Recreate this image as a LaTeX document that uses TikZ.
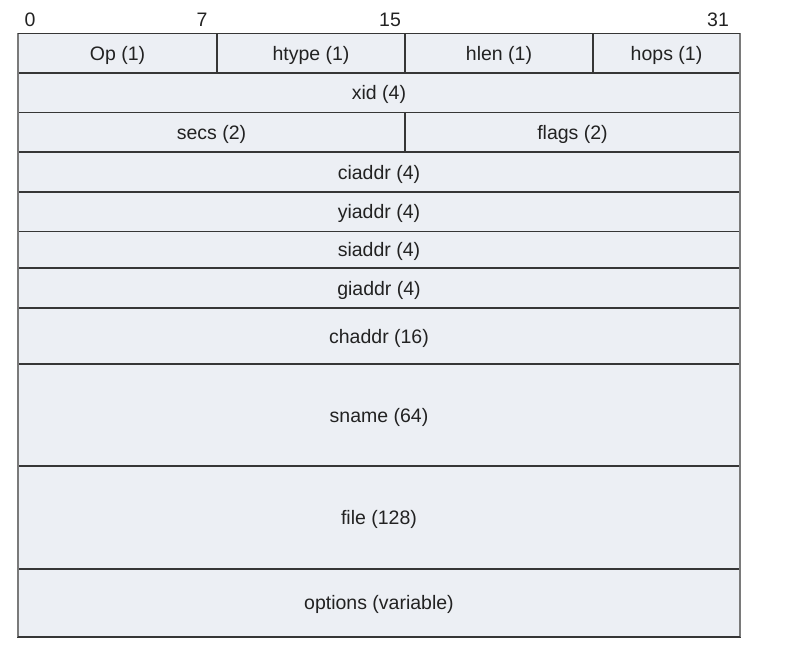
\documentclass[tikz,border=0pt]{standalone}
\usepackage{fontspec}
\setmainfont{Liberation Sans}
\definecolor{cellfill}{HTML}{ECEFF4}
\definecolor{rulecol}{HTML}{363636}
\definecolor{framecol}{HTML}{7A7A7A}
\definecolor{inkcol}{HTML}{222222}
\begin{document}
\begin{tikzpicture}[x=1pt,y=-1pt,
  field/.style={draw=rulecol, fill=cellfill, line width=1.7pt, anchor=north west,
    inner sep=0pt, outer sep=0pt, text=inkcol, text depth=0pt,
    font=\fontsize{19.5}{22}\selectfont},
  bitno/.style={anchor=base, text=inkcol, inner sep=0pt, font=\fontsize{19.5}{22}\selectfont}]
\useasboundingbox (0,0) rectangle (801,650);

% bit positions above the header row
\node[bitno] (b0)  at (30,26.5)  {0};
\node[bitno] (b7)  at (202,26.5) {7};
\node[bitno] (b15) at (390,26.5) {15};
\node[bitno] (b31) at (718,26.5) {31};

% first word: four one-byte fields
\node[field, minimum width=199pt, minimum height=39.5pt] (op)    at (18,33.5)  {Op (1)};
\node[field, minimum width=188pt, minimum height=39.5pt] (htype) at (217,33.5) {htype (1)};
\node[field, minimum width=188pt, minimum height=39.5pt] (hlen)  at (405,33.5) {hlen (1)};
\node[field, minimum width=147pt, minimum height=39.5pt] (hops)  at (593,33.5) {hops (1)};

% transaction id
\node[field, minimum width=722pt, minimum height=39.5pt] (xid) at (18,73) {xid (4)};

% secs / flags
\node[field, minimum width=387pt, minimum height=39pt] (secs)  at (18,112.5)  {secs (2)};
\node[field, minimum width=335pt, minimum height=39pt] (flags) at (405,112.5) {flags (2)};

% address words
\node[field, minimum width=722pt, minimum height=40.5pt] (ciaddr) at (18,151.7) {ciaddr (4)};
\node[field, minimum width=722pt, minimum height=39.4pt] (yiaddr) at (18,192.2) {yiaddr (4)};
\node[field, minimum width=722pt, minimum height=36.6pt] (siaddr) at (18,231.6) {siaddr (4)};
\node[field, minimum width=722pt, minimum height=40pt]   (giaddr) at (18,268.2) {giaddr (4)};

% variable-size areas
\node[field, minimum width=722pt, minimum height=56pt]  (chaddr)  at (18,308.2) {chaddr (16)};
\node[field, minimum width=722pt, minimum height=102pt] (sname)   at (18,364.2) {sname (64)};
\node[field, minimum width=722pt, minimum height=102.8pt] (file)  at (18,466.2) {file (128)};
\node[field, minimum width=722pt, minimum height=67.7pt] (options) at (18,569) {options (variable)};

% outer frame sides drawn in a lighter grey
\draw[framecol, line width=2.6pt] (op.north west) -- (options.south west);
\draw[framecol, line width=2.6pt] (hops.north east) -- (options.south east);
\draw[rulecol, line width=1.7pt] (op.north west) -- (hops.north east);
\draw[rulecol, line width=1.7pt] (options.south west) -- (options.south east);
\end{tikzpicture}
\end{document}
